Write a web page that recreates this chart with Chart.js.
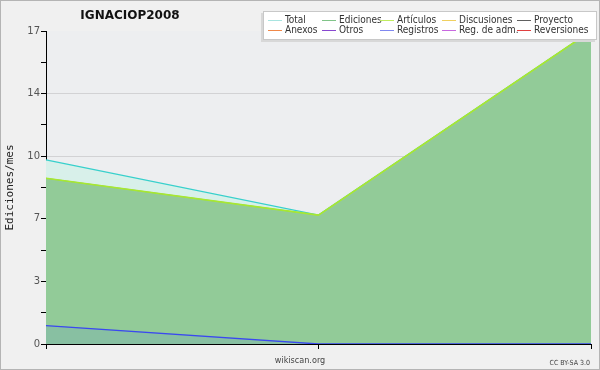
<!DOCTYPE html>
<html>
<head>
<meta charset="utf-8">
<script src="https://cdn.jsdelivr.net/npm/chart.js@4/dist/chart.umd.min.js"></script>
<style>
    html, body { margin: 0; padding: 0; background: #f0f0f0; }
    #wrap { position: relative; width: 600px; height: 370px; }
    #frame { position: absolute; left: 0; top: 0; width: 598px; height: 368px; border: 1px solid #b4b4b4; pointer-events: none; }
    canvas { position: absolute; left: 0; top: 0; }
    #legend {
        position: absolute; left: 263px; top: 11px; width: 332px; height: 27px;
        background: #fff; border: 1px solid #c8c8c8; box-shadow: -2px 2px 0 #d8d8d8;
        font-family: 'DejaVu Sans Condensed', 'DejaVu Sans', sans-serif; font-size: 10px; color: #333;
    }
    .item { position: absolute; height: 12px; line-height: 12px; white-space: nowrap; }
    .item i { position: absolute; left: 0; top: 6px; width: 14px; height: 1px; }
    .item span { position: absolute; left: 17px; top: 0; }
</style>
</head>
<body>
<div id="wrap">
    <canvas id="chart" width="600" height="370"></canvas>
    <div id="legend"></div>
    <div id="frame"></div>
</div>
<script>
// months on the x axis (no labels are printed)
const months = ['', '', ''];

// series values (edits per month)
const total = [10, 7, 17];
const ediciones = [9, 7, 17];
const articulos = [9, 7, 17];
const registros = [1, 0, 0];

// y axis: 5 steps up to the max, labels rounded
const yMax = 17;
const ySteps = 5;

// legend entries
const legendNames = ['Total', 'Ediciones', 'Artículos', 'Discusiones', 'Proyecto',
                     'Anexos', 'Otros', 'Registros', 'Reg. de adm.', 'Reversiones'];
const legendColors = ['#a8e4e0', '#80c488', '#c0ec60', '#f0d060', '#606060',
                      '#f08848', '#8848d0', '#8088f0', '#c868e0', '#e04040'];

// legend columns x (relative to box) and rows y
const legendCols = [4, 58, 116, 178, 253];
const legendRows = [2, 12];

const legend = document.getElementById('legend');
legendNames.forEach((name, i) => {
    const el = document.createElement('div');
    el.className = 'item';
    el.style.left = legendCols[i % 5] + 'px';
    el.style.top = legendRows[Math.floor(i / 5)] + 'px';
    el.innerHTML = '<i style="background:' + legendColors[i] + '"></i><span>' + name + '</span>';
    legend.appendChild(el);
});

const textPlugin = {
    id: 'texts',
    beforeDraw(chart) {
        const { ctx, chartArea: a } = chart;
        ctx.save();
        ctx.fillStyle = '#edeef0';
        ctx.fillRect(a.left, a.top, a.right - a.left, a.bottom - a.top);
        ctx.restore();
    },
    afterDraw(chart) {
        const { ctx, chartArea: a } = chart;
        ctx.save();
        ctx.fillStyle = '#111';
        ctx.textAlign = 'center';
        ctx.textBaseline = 'middle';
        ctx.font = "bold 12px 'DejaVu Sans'";
        ctx.fillText('IGNACIOP2008', 130, 16);

        ctx.fillStyle = '#222';
        ctx.font = "11px 'DejaVu Sans Mono'";
        ctx.translate(10, (a.top + a.bottom) / 2);
        ctx.rotate(-Math.PI / 2);
        ctx.fillText('Ediciones/mes', 0, 0);
        ctx.restore();

        ctx.save();
        ctx.fillStyle = '#444';
        ctx.textAlign = 'center';
        ctx.textBaseline = 'middle';
        ctx.font = "9px 'DejaVu Sans Condensed', 'DejaVu Sans'";
        ctx.fillText('wikiscan.org', 300, 361);
        ctx.textAlign = 'right';
        ctx.font = "7px 'DejaVu Sans Condensed', 'DejaVu Sans'";
        ctx.fillText('CC BY-SA 3.0', 590, 363);
        ctx.restore();
    }
};

new Chart(document.getElementById('chart'), {
    type: 'line',
    data: {
        labels: months,
        datasets: [
            { data: articulos, borderColor: '#a8e830', borderWidth: 1.6, fill: false, order: 1 },
            { data: ediciones, borderColor: '#78c080', borderWidth: 1, fill: 'origin', backgroundColor: '#92cb98', order: 2 },
            { data: registros, borderColor: '#3a48f0', borderWidth: 1.3, fill: 'origin', backgroundColor: '#88c0a2', order: 0 },
            { data: total, borderColor: '#38d0cc', borderWidth: 1.3, fill: 'origin', backgroundColor: '#d8f0ea', order: 3 }
        ]
    },
    options: {
        responsive: false,
        animation: false,
        layout: { padding: { left: 0, top: 31, right: 9, bottom: 0 } },
        elements: { point: { radius: 0 }, line: { tension: 0 } },
        plugins: { legend: { display: false }, tooltip: { enabled: false } },
        scales: {
            x: {
                z: 1,
                offset: false,
                afterFit(s) { s.height = 26; },
                grid: { drawOnChartArea: false, color: '#000', tickLength: 5 },
                border: { color: '#000' },
                ticks: { display: false }
            },
            y: {
                min: 0,
                max: yMax,
                afterFit(s) { s.width = 46; },
                afterBuildTicks(s) {
                    const t = [];
                    for (let i = 0; i <= ySteps * 2; i++) t.push({ value: yMax * i / (ySteps * 2), major: i % 2 === 0 });
                    s.ticks = t;
                },
                grid: {
                    color: c => (c.tick && c.tick.major && c.tick.value > 0 && c.tick.value < yMax) ? '#d2d2d4' : 'rgba(0,0,0,0)',
                    tickColor: '#000',
                    tickLength: 5
                },
                border: { color: '#000' },
                ticks: {
                    color: '#555',
                    padding: 1,
                    font: { family: "'DejaVu Sans'", size: 10 },
                    callback: (v, i, ticks) => ticks[i].major ? Math.round(v) : ''
                }
            }
        }
    },
    plugins: [textPlugin]
});
</script>
</body>
</html>
